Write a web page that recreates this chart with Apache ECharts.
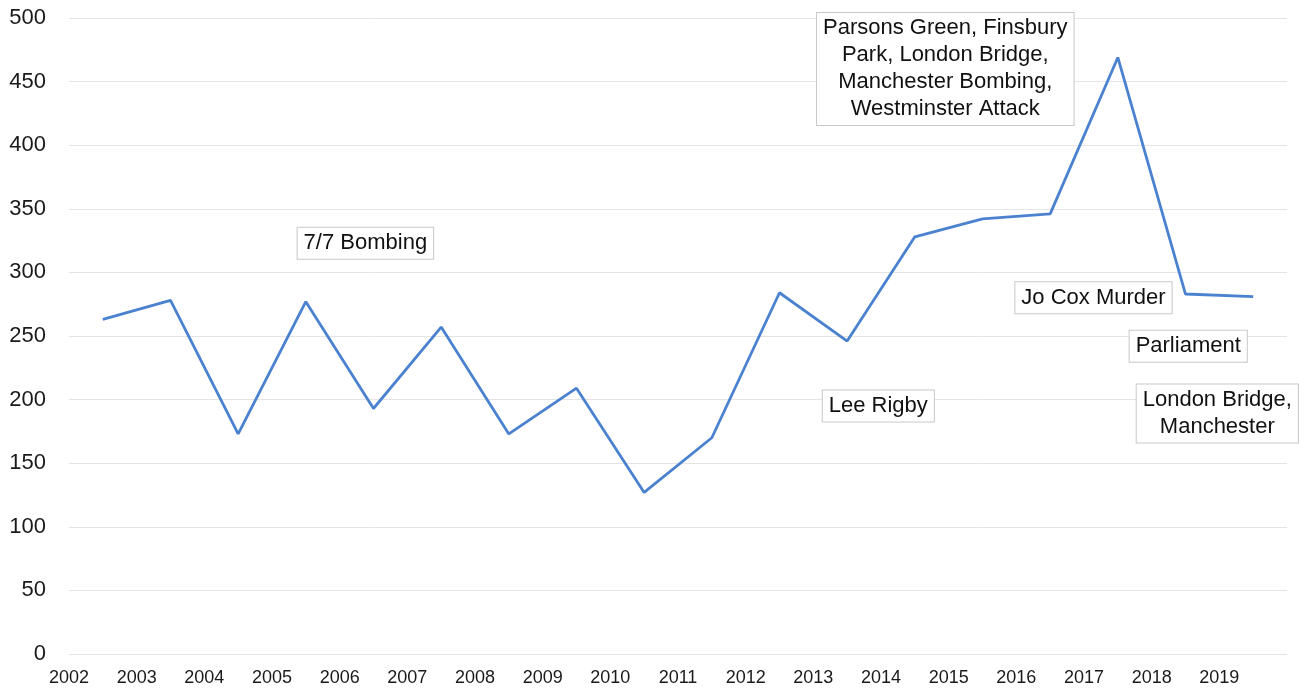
<!DOCTYPE html>
<html>
<head>
<meta charset="utf-8">
<script src="https://cdn.jsdelivr.net/npm/echarts@6/dist/echarts.min.js"></script>
<style>
html,body{margin:0;padding:0;background:#fff;}
#chart{width:1307px;height:690px;}
</style>
</head>
<body>
<div id="chart"></div>
<script>
// Year tick labels (placed on band boundaries)
const years = ['2002','2003','2004','2005','2006','2007','2008','2009','2010','2011','2012','2013','2014','2015','2016','2017','2018','2019'];
// Series values, one per year
const values = [263, 278, 173, 277, 193, 257, 173, 209, 127, 170, 284, 246, 328, 342, 346, 469, 283, 281];
// Y tick range
const yMin = 0, yMax = 500, yStep = 50;
// Annotations: [x (in year bands from 2002), y (value), text]
const annotations = [
  [4.38, 323, '7/7 Bombing'],
  [12.95, 460, 'Parsons Green, Finsbury\nPark, London Bridge,\nManchester Bombing,\nWestminster Attack'],
  [15.14, 280, 'Jo Cox Murder'],
  [16.54, 242, 'Parliament'],
  [16.97, 189, 'London Bridge,\nManchester'],
  [11.96, 195, 'Lee Rigby']
];

const chart = echarts.init(document.getElementById('chart'));
const lineData = values.map((v, i) => [i + 0.5, v]);
chart.setOption({
  animation: false,
  grid: {left: 69, right: 20, top: 18, bottom: 36, containLabel: false},
  xAxis: {
    type: 'value', min: 0, max: years.length, interval: 1,
    axisLine: {show: false}, axisTick: {show: false}, splitLine: {show: false},
    axisLabel: {
      formatter: v => years[v] !== undefined ? years[v] : '',
      color: '#1a1a1a', fontSize: 18, fontFamily: 'Liberation Sans, Arial, sans-serif', margin: 15,
      showMaxLabel: true, showMinLabel: true
    }
  },
  yAxis: {
    type: 'value', min: yMin, max: yMax, interval: yStep,
    axisLine: {show: false}, axisTick: {show: false},
    splitLine: {lineStyle: {color: '#e4e4e4', width: 1}},
    axisLabel: {color: '#1a1a1a', fontSize: 22, fontFamily: 'Liberation Sans, Arial, sans-serif', margin: 23}
  },
  series: [
    {
      type: 'scatter',
      data: annotations.map(a => ({value: [a[0], a[1]], name: a[2]})),
      symbolSize: 0,
      z: 1,
      silent: true,
      itemStyle: {opacity: 1},
      label: {
        show: true, position: [0, 0],
        formatter: p => p.name,
        color: '#111', fontSize: 22, fontFamily: 'Liberation Sans, Arial, sans-serif',
        lineHeight: 27, align: 'center', verticalAlign: 'middle',
        backgroundColor: '#fff', borderColor: '#c8c8c8', borderWidth: 1, padding: [2, 6]
      }
    },
    {
      type: 'line',
      data: lineData,
      showSymbol: false, symbol: 'none',
      z: 3,
      lineStyle: {color: '#4b82d0', width: 2.8}
    }
  ]
});
</script>
</body>
</html>
